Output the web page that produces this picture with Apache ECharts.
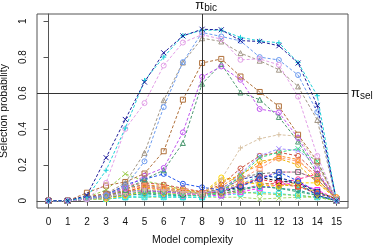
<!DOCTYPE html>
<html><head><meta charset="utf-8">
<script src="https://cdn.jsdelivr.net/npm/echarts@6/dist/echarts.min.js"></script>
<style>html,body{margin:0;padding:0;background:#fff}#c{width:374px;height:248px}</style>
</head><body><div id="c"></div>
<script>
var complexity = [0,1,2,3,4,5,6,7,8,9,10,11,12,13,14,15];
var xTicks = [0,1,2,3,4,5,6,7,8,9,10,11,12,13,14,15];
var yTicks = [0,0.2,0.4,0.6,0.8,1];
var piBic = 8;
var piSel = 0.6;
var xTitle = 'Model complexity';
var yTitle = 'Selection probability';

// high-probability series
var sNavyX     = [0,0,0.03,0.24,0.453,0.661,0.824,0.918,0.955,0.952,0.892,0.887,0.863,0.767,0.531,0];
var sCyanPlus  = [0,0,0.02,0.17,0.405,0.67,0.80,0.92,0.95,0.95,0.91,0.89,0.88,0.77,0.585,0];
var sPlumO     = [0,0,0.01,0.10,0.40,0.544,0.753,0.881,0.925,0.90,0.785,0.79,0.757,0.58,0.25,0];
var sCornO     = [0,0,0.01,0.03,0.08,0.22,0.522,0.772,0.937,0.915,0.89,0.80,0.784,0.70,0.494,0];
var sTanTri    = [0,0,0.01,0.04,0.10,0.267,0.56,0.77,0.905,0.887,0.822,0.78,0.73,0.637,0.45,0];
var sBrownSq   = [0,0,0.045,0.085,0.105,0.152,0.276,0.563,0.767,0.79,0.692,0.606,0.526,0.368,0.22,0];
var sPurpleO   = [0,0,0.01,0.03,0.07,0.14,0.183,0.381,0.69,0.748,0.674,0.511,0.492,0.35,0.17,0];
var sGreenTri  = [0,0,0.01,0.03,0.06,0.12,0.17,0.322,0.652,0.761,0.603,0.563,0.467,0.33,0.15,0];
var sWheatPlus = [0,0,0.01,0.02,0.04,0.06,0.06,0.05,0.04,0.12,0.294,0.346,0.368,0.36,0.20,0.01];
// low-probability series
var sBlueO     = [0,0,0.02,0.03,0.09,0.12,0.15,0.095,0.075,0.06,0.08,0.12,0.16,0.11,0.05,0];
var sOliveX    = [0,0,0.02,0.06,0.15,0.11,0.09,0.06,0.04,0.04,0.05,0.04,0.035,0.03,0.02,0];
var sGoldO     = [0,0,0.01,0.02,0.05,0.07,0.06,0.05,0.04,0.11,0.14,0.22,0.235,0.20,0.10,0.01];
var sOrangeTri = [0,0,0.01,0.03,0.06,0.09,0.08,0.06,0.05,0.08,0.15,0.20,0.25,0.23,0.12,0.01];
var sRedO      = [0,0,0.02,0.04,0.08,0.10,0.09,0.07,0.05,0.09,0.18,0.25,0.27,0.25,0.15,0.01];
var sSalmonSq  = [0,0,0.01,0.03,0.07,0.08,0.07,0.05,0.04,0.06,0.12,0.18,0.24,0.22,0.14,0.01];
var sLavX      = [0,0,0.01,0.02,0.05,0.06,0.05,0.04,0.04,0.06,0.15,0.25,0.29,0.28,0.20,0.01];
var sSpringX   = [0,0,0.01,0.02,0.04,0.05,0.04,0.03,0.03,0.05,0.14,0.24,0.27,0.29,0.22,0.01];
var sTurqSq    = [0,0,0.01,0.01,0.02,0.02,0.03,0.02,0.02,0.05,0.09,0.14,0.13,0.09,0.03,0];
var sGraySq    = [0,0,0.02,0.04,0.07,0.09,0.07,0.05,0.04,0.07,0.13,0.15,0.16,0.16,0.12,0.01];
var sBlackSq   = [0,0,0.01,0.03,0.05,0.06,0.05,0.04,0.04,0.05,0.08,0.13,0.11,0.10,0.05,0.01];
var sMagSq     = [0,0,0.01,0.02,0.04,0.05,0.04,0.03,0.03,0.03,0.05,0.07,0.09,0.10,0.06,0.01];
var sPinkO     = [0,0,0.01,0.02,0.03,0.06,0.05,0.04,0.03,0.04,0.06,0.09,0.10,0.12,0.15,0.02];
var sCyanSq    = [0,0,0.01,0.01,0.02,0.03,0.02,0.02,0.02,0.03,0.04,0.05,0.04,0.03,0.02,0];
var sLimeX     = [0,0,0.01,0.01,0.02,0.02,0.02,0.02,0.02,0.02,0.02,0.01,0.015,0.02,0.02,0];
var sSeaPlus   = [0,0,0.01,0.02,0.03,0.04,0.04,0.03,0.03,0.04,0.06,0.08,0.07,0.05,0.03,0];
var sOchreTri  = [0,0,0.01,0.03,0.05,0.08,0.07,0.06,0.05,0.06,0.10,0.10,0.09,0.08,0.05,0.01];
var sCrimSq    = [0,0,0.01,0.02,0.05,0.08,0.06,0.05,0.04,0.05,0.09,0.12,0.10,0.08,0.04,0.01];
var sDkBlueO   = [0,0,0.01,0.02,0.04,0.05,0.05,0.05,0.04,0.06,0.12,0.14,0.13,0.10,0.03,0];
var sYellowO   = [0,0,0.01,0.01,0.03,0.05,0.04,0.04,0.04,0.13,0.11,0.09,0.08,0.10,0.10,0.02];
var sHotPinkO  = [0,0,0.01,0.02,0.04,0.06,0.05,0.04,0.03,0.05,0.09,0.13,0.16,0.16,0.12,0.01];
var sTealO     = [0,0,0.01,0.02,0.03,0.04,0.03,0.03,0.03,0.05,0.07,0.08,0.07,0.06,0.03,0];

var PLUS = 'path://M0,5L10,5M5,0L5,10';
var CROSS = 'path://M0,0L10,10M10,0L0,10';

var defs = [
  [sLimeX,'#a6d86a',CROSS],[sCyanSq,'#22e8ee','rect'],[sMagSq,'#ff22ff','rect'],[sPinkO,'#ff3399','circle'],
  [sSeaPlus,'#2ea86a',PLUS],[sTealO,'#2a9a9a','circle'],[sTurqSq,'#33dddd','rect'],[sBlackSq,'#111111','rect'],
  [sOchreTri,'#b8a020','triangle'],[sCrimSq,'#ee3344','rect'],[sDkBlueO,'#2222aa','circle'],[sYellowO,'#ffd700','circle'],
  [sHotPinkO,'#ff77bb','circle'],[sGraySq,'#777777','rect'],[sOliveX,'#99cc44',CROSS],[sGoldO,'#f0b000','circle'],
  [sOrangeTri,'#ff8c1a','triangle'],[sRedO,'#cc5544','circle'],[sSalmonSq,'#ffa080','rect'],[sLavX,'#9f88ff',CROSS],
  [sSpringX,'#33e08a',CROSS],[sBlueO,'#2255ee','circle'],
  [sWheatPlus,'#d9c3a5',PLUS],[sGreenTri,'#4e9a72','triangle'],[sPurpleO,'#c055f0','circle'],[sBrownSq,'#b0703a','rect'],
  [sTanTri,'#a09585','triangle'],[sCornO,'#6b9bf0','circle'],[sPlumO,'#e3a0e8','circle'],
  [sCyanPlus,'#1fd0d8',PLUS],[sNavyX,'#1c1c9a',CROSS]
];

var series = defs.map(function(d){
  return {
    type:'line',
    data: complexity.map(function(x,i){return [x,d[0][i]];}),
    symbol:d[2], symbolSize:5, showSymbol:true,
    lineStyle:{color:d[1], width:1, type:[3,2]},
    itemStyle:{color:'rgba(0,0,0,0)', borderColor:d[1], borderWidth:1},
    emphasis:{disabled:true}, silent:true
  };
});
series.push({
  type:'line', data:[], silent:true,
  markLine:{
    silent:true, symbol:'none', animation:false,
    lineStyle:{color:'#333', width:1, type:'solid'},
    data:[
      {xAxis:piBic, label:{position:'end', distance:1, formatter:'{p|π}{s|bic}', offset:[4,0],
        rich:{p:{fontSize:13, fontFamily:'Liberation Sans', color:'#111'}, s:{fontSize:10, fontFamily:'Liberation Sans', color:'#111', padding:[6,0,0,0]}}}},
      {yAxis:piSel, label:{position:'end', distance:3, formatter:'{p|π}{s|sel}',
        rich:{p:{fontSize:13, fontFamily:'Liberation Sans', color:'#111'}, s:{fontSize:10, fontFamily:'Liberation Sans', color:'#111', padding:[6,0,0,0]}}}}
    ]
  }
});

function isYTick(v){
  for (var i=0;i<yTicks.length;i++){ if (Math.abs(v-yTicks[i])<1e-6) return yTicks[i]; }
  return null;
}

var chart = echarts.init(document.getElementById('c'), null, {renderer:'canvas'});
chart.setOption({
  animation:false,
  backgroundColor:'#fff',
  grid:{left:37, right:26, top:14, bottom:40, show:true, borderColor:'#555', borderWidth:1, backgroundColor:'transparent', containLabel:false, outerBoundsMode:'none'},
  xAxis:{
    type:'value', min:-0.6, max:15.6,
    name:xTitle, nameLocation:'middle', nameGap:27,
    nameTextStyle:{fontSize:10.5, fontFamily:'Liberation Sans', color:'#111'},
    axisLine:{show:true, lineStyle:{color:'#555'}},
    axisTick:{show:true, inside:false, length:5, lineStyle:{color:'#555'}, customValues:xTicks},
    axisLabel:{fontSize:10, fontFamily:'Liberation Sans', color:'#111', margin:9, customValues:xTicks, formatter:function(v){return String(v);}},
    splitLine:{show:false}
  },
  yAxis:{
    type:'value', min:-0.04, max:1.04, interval:0.04,
    name:yTitle, nameLocation:'middle', nameGap:26, nameRotate:90,
    nameTextStyle:{fontSize:10.5, fontFamily:'Liberation Sans', color:'#111'},
    axisLine:{show:true, lineStyle:{color:'#555'}},
    axisTick:{show:true, inside:false, length:5, lineStyle:{color:'#555'}, customValues:yTicks},
    axisLabel:{fontSize:10, fontFamily:'Liberation Sans', color:'#111', margin:9, rotate:90, hideOverlap:false,
      showMinLabel:true, showMaxLabel:true,
      formatter:function(v){ var t=isYTick(v); return t===null ? '' : String(t); }},
    splitLine:{show:false}
  },
  series:series
});
</script></body></html>
